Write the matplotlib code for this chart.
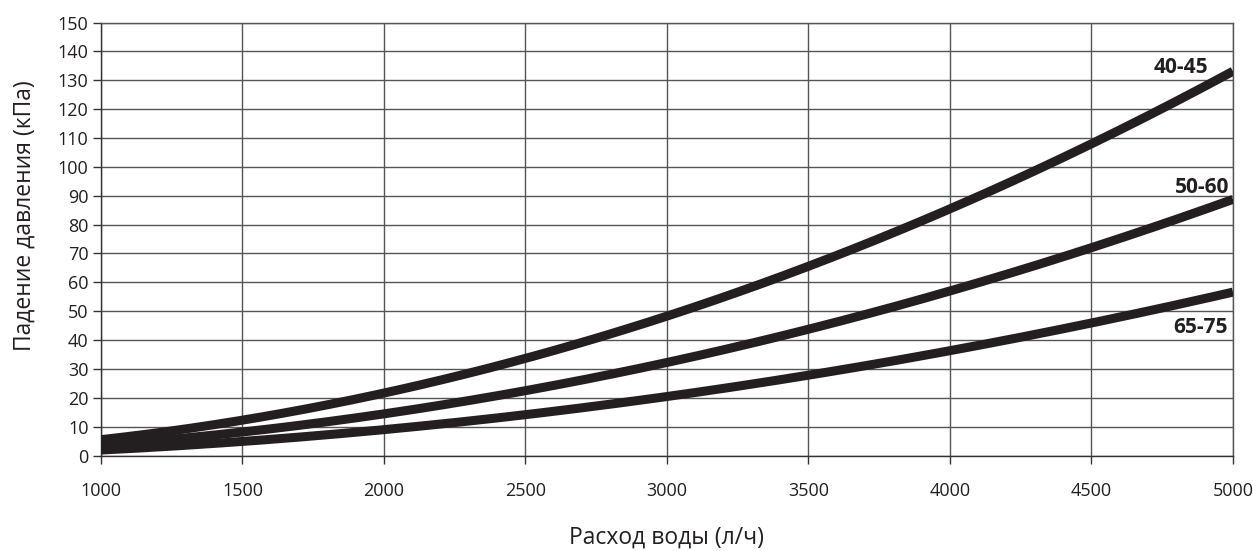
import numpy as np
import matplotlib.pyplot as plt

plt.rcParams['font.family'] = ['Open Sans', 'DejaVu Sans']

flow = [1000, 1500, 2000, 2500, 3000, 3500, 4000, 4500, 5000]
dp_40_45 = [5.5, 12.2, 21.6, 33.6, 48.5, 66.0, 84.8, 108.0, 133.3]
dp_50_60 = [3.8, 8.0, 14.3, 22.3, 32.2, 44.0, 57.3, 71.8, 88.7]
dp_65_75 = [2.3, 4.8, 8.5, 13.7, 20.4, 28.3, 36.8, 46.0, 56.2]
labels = ['40-45', '50-60', '65-75']
label_pos = [(4912, 134.3), (4986, 93.0), (4982, 44.2)]

ink = '#231f20'

fig = plt.figure(figsize=(12.53, 5.51), dpi=100)
ax = fig.add_axes([0.0806, 0.1733, 0.9034, 0.7857])

xs = np.linspace(1000, 5000, 200)
for ys in [dp_40_45, dp_50_60, dp_65_75]:
    # smooth the read-off points with a quadratic fit
    c = np.polyfit(flow, ys, 2)
    ax.plot(xs, np.polyval(c, xs), color=ink, lw=6.5, solid_capstyle='butt', zorder=3)

for lab, (x, y) in zip(labels, label_pos):
    ax.text(x, y, lab, ha='right', va='center', fontsize=15, fontweight='bold', color=ink)

ax.set_xlim(1000, 5000)
ax.set_ylim(0, 150)
ax.set_xticks(range(1000, 5001, 500))
ax.set_yticks(range(0, 151, 10))
ax.grid(True, color='#555555', lw=1.0)
ax.set_axisbelow(True)
for s in ['top', 'right']:
    ax.spines[s].set_color('#555555')
    ax.spines[s].set_linewidth(1.0)
for s in ['left', 'bottom']:
    ax.spines[s].set_color('#333333')
    ax.spines[s].set_linewidth(1.0)
ax.tick_params(axis='both', length=6, width=1, color='#333333', labelsize=13, labelcolor=ink)
ax.tick_params(axis='x', pad=13)
ax.tick_params(axis='y', pad=3)

ax.set_xlabel('Расход воды (л/ч)', fontsize=16.5, color=ink)
ax.set_ylabel('Падение давления (кПа)', fontsize=16.5, color=ink)
ax.xaxis.set_label_coords(0.5, -0.162)
ax.yaxis.set_label_coords(-0.0565, 0.553)

fig.savefig('out.png', dpi=100)
